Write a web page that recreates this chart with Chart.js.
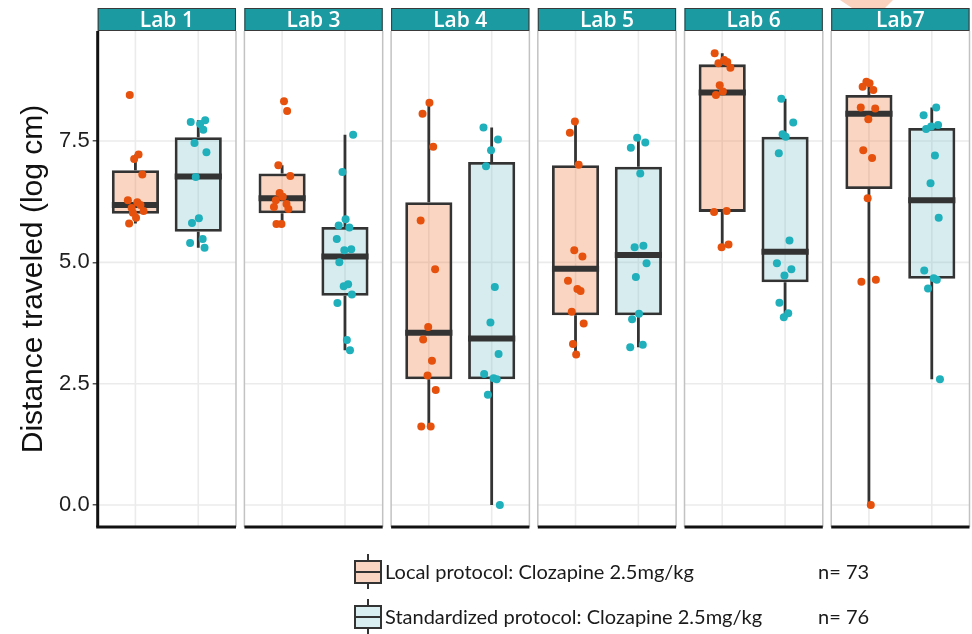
<!DOCTYPE html>
<html>
<head>
<meta charset="utf-8">
<script src="https://cdn.jsdelivr.net/npm/chart.js@4.4.1/dist/chart.umd.min.js"></script>
<style>
  html, body { margin: 0; padding: 0; background: #ffffff; }
  #wrap { width: 972px; height: 634px; position: relative; }
</style>
</head>
<body>
<div id="wrap"><canvas id="c" width="972" height="634"></canvas></div>
<script>
// ---- data -------------------------------------------------------------
const labs = ['Lab 1', 'Lab 3', 'Lab 4', 'Lab 5', 'Lab 6', 'Lab7'];
const groupNames = ['Local protocol: Clozapine 2.5mg/kg', 'Standardized protocol: Clozapine 2.5mg/kg'];
const yTickValues = [0, 2.5, 5, 7.5];
const yTitle = 'Distance traveled (log cm)';

// individual animals, log distance travelled
const localLab1 = [8.45, 7.22, 7.13, 6.81, 6.28, 6.24, 6.18, 6.12, 6.06, 6.02, 5.92, 5.80];
const localLab3 = [8.32, 8.12, 7.00, 6.78, 6.43, 6.35, 6.28, 6.20, 6.14, 6.10, 5.79, 5.79];
const localLab4 = [8.29, 8.06, 7.38, 5.86, 4.86, 3.67, 3.41, 2.97, 2.67, 2.37, 1.62, 1.62];
const localLab5 = [7.90, 7.67, 7.01, 5.25, 5.12, 4.62, 4.45, 4.41, 3.98, 3.74, 3.32, 3.10];
const localLab6 = [9.31, 9.17, 9.13, 9.10, 9.01, 8.65, 8.52, 8.45, 6.06, 6.04, 5.37, 5.31];
const localLab7 = [8.72, 8.69, 8.62, 8.55, 8.19, 8.17, 7.95, 7.31, 7.15, 6.32, 4.64, 4.60, 0.00];

const standardLab1 = [7.93, 7.89, 7.85, 7.73, 7.46, 7.27, 6.76, 5.91, 5.81, 5.48, 5.40, 5.30];
const standardLab3 = [7.63, 6.86, 5.89, 5.76, 5.72, 5.48, 5.27, 5.25, 5.00, 4.55, 4.51, 4.34, 4.16, 3.40, 3.19];
const standardLab4 = [7.78, 7.53, 7.31, 6.98, 4.49, 3.76, 3.11, 2.70, 2.61, 2.59, 2.27, 0.00];
const standardLab5 = [7.57, 7.47, 7.36, 6.83, 5.34, 5.31, 4.98, 4.70, 3.94, 3.83, 3.30, 3.25];
const standardLab6 = [8.37, 7.88, 7.64, 7.59, 7.25, 5.45, 4.98, 4.86, 4.73, 4.17, 3.95, 3.87];
const standardLab7 = [8.19, 8.03, 7.83, 7.80, 7.75, 7.20, 6.63, 5.92, 4.83, 4.67, 4.64, 4.46, 2.59];

const localValues = [localLab1, localLab3, localLab4, localLab5, localLab6, localLab7];
const standardValues = [standardLab1, standardLab3, standardLab4, standardLab5, standardLab6, standardLab7];

// box summaries per lab: [lower whisker, Q1, median, Q3, upper whisker]
const localBoxes = [
  [5.80, 6.00, 6.18, 6.90, 7.22],
  [5.79, 6.01, 6.32, 6.83, 7.00],
  [1.62, 2.59, 3.55, 6.24, 8.29],
  [3.10, 3.91, 4.87, 7.00, 7.90],
  [5.31, 6.04, 8.50, 9.08, 9.31],
  [0.00, 6.51, 8.06, 8.45, 8.72]
];
const standardBoxes = [
  [5.30, 5.63, 6.77, 7.58, 7.93],
  [3.19, 4.31, 5.12, 5.73, 7.63],
  [0.00, 2.59, 3.43, 7.07, 7.78],
  [3.25, 3.91, 5.15, 6.97, 7.57],
  [3.87, 4.59, 5.22, 7.59, 8.37],
  [2.59, 4.66, 6.28, 7.77, 8.19]
];

// ---- layout of the facets on one shared linear x axis -------------------
const PANEL_SPAN = 2.2;    // two discrete slots plus 0.6 padding each side
const PANEL_GAP = 0.134;   // white space between facets
const BOX_WIDTH = 0.75;    // box width in slot units
const totalSpan = labs.length * PANEL_SPAN + (labs.length - 1) * PANEL_GAP;
const panelStart = p => p * (PANEL_SPAN + PANEL_GAP);
const slotPos = (p, g) => panelStart(p) + 0.6 + g;
// small horizontal spread for the dots
const jitterPattern = [-0.09, 0.05, -0.02, 0.11, -0.12, 0.03, 0.08, -0.06, 0.13, -0.04, 0.01, -0.10, 0.07, -0.13, 0.10, -0.01];

const dotColors = ['#e6520e', '#1fb0bc'];
const boxFills = ['rgba(238,118,52,0.30)', 'rgba(122,192,198,0.30)'];
const legendFills = ['#fad6c2', '#d8eef0'];
const inkColor = '#333333';

const groupValues = [localValues, standardValues];
const groupBoxes = [localBoxes, standardBoxes];

function pointsFor(g) {
  const out = [];
  groupValues[g].forEach((vals, p) => {
    vals.forEach((v, i) => out.push({ x: slotPos(p, g) + jitterPattern[(i + p * 5 + g * 3) % jitterPattern.length], y: v }));
  });
  return out;
}
function boxesFor(g) {
  return groupBoxes[g].map((b, p) => ({ x: slotPos(p, g), y: [b[1], b[3]] }));
}
function mediansFor(g) {
  return groupBoxes[g].map((b, p) => ({ x: slotPos(p, g), y: b[2] }));
}
function whiskerPath() {
  const out = [];
  labs.forEach((lab, p) => {
    [0, 1].forEach(g => {
      const b = groupBoxes[g][p];
      const x = slotPos(p, g);
      out.push({ x, y: b[0] }, { x, y: b[1] }, { x, y: null },
                { x, y: b[3] }, { x, y: b[4] }, { x, y: null });
    });
  });
  return out;
}

// ---- facet frames, strips and legend ----------------------------------
function seg(ctx, x0, y0, x1, y1) {
  ctx.beginPath(); ctx.moveTo(x0, y0); ctx.lineTo(x1, y1); ctx.stroke();
}

const facetPlugin = {
  id: 'facets',
  beforeDatasetsDraw(chart) {
    const { ctx, chartArea: a, scales: { x, y } } = chart;
    ctx.save();
    ctx.strokeStyle = '#ebebeb';
    ctx.lineWidth = 1.6;
    labs.forEach((lab, p) => {
      const x0 = x.getPixelForValue(panelStart(p));
      const x1 = x.getPixelForValue(panelStart(p) + PANEL_SPAN);
      yTickValues.forEach(v => {
        const py = y.getPixelForValue(v);
        seg(ctx, x0 + (p === 0 ? 1.5 : 0), py, x1, py);
      });
      [0, 1].forEach(g => {
        const px = x.getPixelForValue(slotPos(p, g));
        seg(ctx, px, a.top, px, a.bottom);
      });
    });
    ctx.restore();
  },
  afterDatasetsDraw(chart) {
    const { ctx, chartArea: a, scales: { x } } = chart;
    ctx.save();
    labs.forEach((lab, p) => {
      const x0 = x.getPixelForValue(panelStart(p));
      const x1 = x.getPixelForValue(panelStart(p) + PANEL_SPAN);
      ctx.strokeStyle = '#c2c2c2';
      ctx.lineWidth = 1.5;
      seg(ctx, x1, a.top, x1, a.bottom);
      if (p > 0) seg(ctx, x0, a.top, x0, a.bottom);
      ctx.strokeStyle = '#111111';
      ctx.lineWidth = 3;
      seg(ctx, x0 - (p === 0 ? 1.5 : 0), a.bottom, x1, a.bottom);
      if (p === 0) seg(ctx, x0, a.top, x0, a.bottom);
    });
    ctx.restore();
  },
  afterDraw(chart) {
    const { ctx, chartArea: a, scales: { x } } = chart;
    ctx.save();
    // soft peach mark above the last strip
    ctx.fillStyle = '#fbd2bd';
    ctx.beginPath();
    ctx.moveTo(840, 0); ctx.lineTo(893, 0); ctx.lineTo(885, 8); ctx.lineTo(852, 8);
    ctx.closePath(); ctx.fill();

    // strips
    labs.forEach((lab, p) => {
      const x0 = x.getPixelForValue(panelStart(p));
      const x1 = x.getPixelForValue(panelStart(p) + PANEL_SPAN);
      const top = 8;
      ctx.fillStyle = '#1b9aa1';
      ctx.fillRect(x0, top, x1 - x0, a.top - top);
      ctx.strokeStyle = '#3a3a3a';
      ctx.lineWidth = 1;
      ctx.strokeRect(x0 + 0.5, top + 0.5, x1 - x0 - 1, a.top - top - 1);
      ctx.fillStyle = '#ffffff';
      ctx.font = '600 21px "Open Sans"';
      ctx.textAlign = 'center';
      ctx.textBaseline = 'alphabetic';
      ctx.fillText(lab, (x0 + x1) / 2, 27);
    });

    // legend
    const rows = [572, 617];
    const counts = [localValues.flat().length, standardValues.flat().length];
    rows.forEach((cy, g) => {
      const gx = 368;
      ctx.strokeStyle = inkColor;
      ctx.lineWidth = 2;
      seg(ctx, gx, cy - 18, gx, cy + 17);
      ctx.fillStyle = legendFills[g];
      ctx.fillRect(355, cy - 11, 26, 22);
      ctx.strokeRect(355, cy - 11, 26, 22);
      seg(ctx, 355, cy, 381, cy);
      ctx.fillStyle = '#1a1a1a';
      ctx.font = '20px Lato';
      ctx.textAlign = 'left';
      ctx.textBaseline = 'middle';
      ctx.fillText(groupNames[g], 385, cy + 1);
      ctx.fillText('n= ' + counts[g], 818, cy + 1);
    });
    ctx.restore();
  }
};

// ---- chart ------------------------------------------------------------
const halfBox = ctx => {
  const xs = ctx.chart.scales.x;
  return (xs.getPixelForValue(BOX_WIDTH) - xs.getPixelForValue(0)) / 2;
};

new Chart(document.getElementById('c'), {
  type: 'scatter',
  data: {
    datasets: [
      { type: 'scatter', label: groupNames[0], data: pointsFor(0), backgroundColor: dotColors[0],
        borderWidth: 0, pointRadius: 4 },
      { type: 'scatter', label: groupNames[1], data: pointsFor(1), backgroundColor: dotColors[1],
        borderWidth: 0, pointRadius: 4 },
      { type: 'scatter', label: 'median local', data: mediansFor(0), pointStyle: 'line',
        pointRadius: halfBox, borderColor: inkColor, pointBorderWidth: 6, backgroundColor: inkColor },
      { type: 'scatter', label: 'median standardized', data: mediansFor(1), pointStyle: 'line',
        pointRadius: halfBox, borderColor: inkColor, pointBorderWidth: 6, backgroundColor: inkColor },
      { type: 'bar', label: 'box local', data: boxesFor(0), grouped: false,
        categoryPercentage: 1, barPercentage: BOX_WIDTH, backgroundColor: boxFills[0],
        borderColor: inkColor, borderWidth: 2.8, borderSkipped: false },
      { type: 'bar', label: 'box standardized', data: boxesFor(1), grouped: false,
        categoryPercentage: 1, barPercentage: BOX_WIDTH, backgroundColor: boxFills[1],
        borderColor: inkColor, borderWidth: 2.8, borderSkipped: false },
      { type: 'line', label: 'whiskers', data: whiskerPath(), borderColor: inkColor,
        borderWidth: 2.8, pointRadius: 0, spanGaps: false, fill: false }
    ]
  },
  options: {
    responsive: false,
    devicePixelRatio: 1,
    animation: false,
    events: [],
    layout: { autoPadding: false, padding: { top: 31, right: 2.5, bottom: 107, left: 0 } },
    plugins: { legend: { display: false }, tooltip: { enabled: false } },
    scales: {
      x: {
        type: 'linear', min: 0, max: totalSpan, display: false, offset: false,
        ticks: { stepSize: 100 },
        afterBuildTicks: s => { s.ticks = [{ value: 0 }]; }
      },
      y: {
        type: 'linear', min: -0.453, max: 9.767, offset: false,
        afterBuildTicks: s => { s.ticks = yTickValues.map(v => ({ value: v })); },
        afterFit: s => { s.width = 97.7; },
        ticks: {
          callback: v => Number(v).toFixed(1),
          font: { family: '"Liberation Sans", Arial, sans-serif', size: 22 },
          color: '#1e1e1e', padding: 3
        },
        grid: { drawOnChartArea: false, drawTicks: true, tickLength: 5, color: '#555555', lineWidth: 1.5 },
        border: { display: false },
        title: {
          display: true, text: yTitle,
          font: { family: '"Liberation Sans", Arial, sans-serif', size: 30 },
          color: '#111111', padding: { top: 16, bottom: 0 }
        }
      }
    }
  },
  plugins: [facetPlugin]
});
</script>
</body>
</html>
